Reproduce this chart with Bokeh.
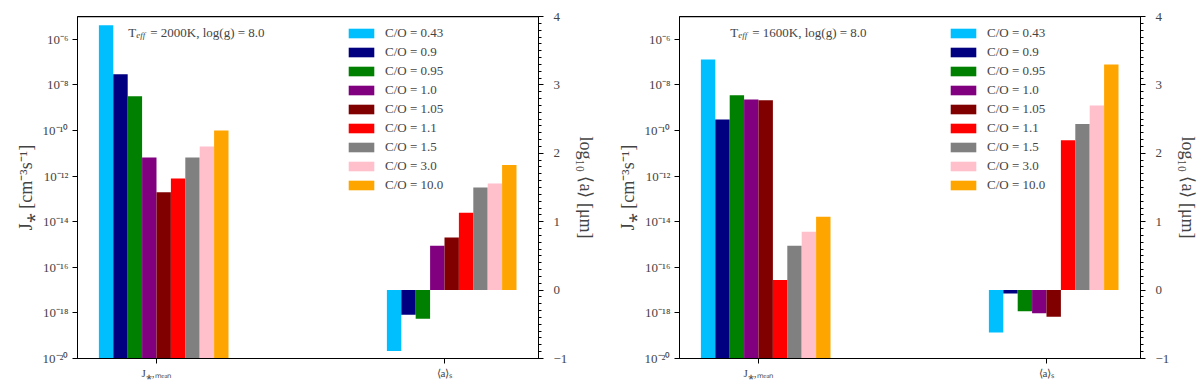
from bokeh.plotting import figure
from bokeh.layouts import row
from bokeh.models import (Range1d, LinearAxis, LinearScale, FixedTicker, SingleIntervalTicker,
                          CustomJSTickFormatter, Legend, LegendItem, Label, Span)
from bokeh.embed import file_html
from bokeh.resources import INLINE

# ---------------- data ----------------
series_labels = ["C/O = 0.43", "C/O = 0.9", "C/O = 0.95", "C/O = 1.0", "C/O = 1.05",
                 "C/O = 1.1", "C/O = 1.5", "C/O = 3.0", "C/O = 10.0"]
series_colors = ["#00BFFF", "#000080", "#008000", "#800080", "#800000",
                 "#FF0000", "#808080", "#FFC0CB", "#FFA500"]
group_labels = ["J⁎,ₘₑₐₙ", "⟨a⟩ₛ"]

# nucleation rate J* [cm^-3 s^-1]
J_2000 = [4.1e-6, 2.9e-8, 3.2e-9, 6.6e-12, 1.95e-13, 7.9e-13, 6.6e-12, 2.0e-11, 1.0e-10]
J_1600 = [1.3e-7, 3.0e-10, 3.5e-9, 2.3e-9, 2.1e-9, 2.75e-17, 8.9e-16, 3.6e-15, 1.66e-14]
# log10 <a> [um]
A_2000 = [-0.89, -0.36, -0.42, 0.65, 0.77, 1.13, 1.50, 1.56, 1.83]
A_1600 = [-0.62, -0.05, -0.31, -0.34, -0.39, 2.19, 2.43, 2.70, 3.30]

titles = [("T", "eff", "= 2000K, log(g) = 8.0"), ("T", "eff", "= 1600K, log(g) = 8.0")]

FONT = "Liberation Serif"
BAR_W = 0.05
J_BOTTOM = 1e-20
A_MIN, A_MAX = -1, 4

sup_code = """
const e = Math.round(Math.log10(tick));
const sup = {"-":"\u207b","0":"\u2070","1":"\u00b9","2":"\u00b2","3":"\u00b3","4":"\u2074",
             "5":"\u2075","6":"\u2076","7":"\u2077","8":"\u2078","9":"\u2079"};
return "10" + String(e).split("").map(c => sup[c]).join("");
"""


def make_panel(J, A, title, mb_left, mb_right):
    p = figure(frame_width=461, frame_height=342, output_backend="svg", toolbar_location=None,
               y_axis_type="log", x_range=Range1d(-0.2743, 1.3264),
               y_range=Range1d(J_BOTTOM, 1e-5),
               min_border_left=mb_left, min_border_right=mb_right,
               min_border_top=16, min_border_bottom=30)
    p.extra_y_ranges = {"a": Range1d(A_MIN, A_MAX)}
    p.extra_y_scales = {"a": LinearScale()}
    p.xgrid.grid_line_color = None
    p.ygrid.grid_line_color = None
    p.outline_line_color = "black"
    p.outline_line_alpha = 1.0
    p.outline_line_width = 1
    p.background_fill_color = "white"
    p.border_fill_color = "white"

    items = []
    for i in range(len(series_labels)):
        off = (i - 3.5) * BAR_W
        rj = p.vbar(x=[0 + off], width=BAR_W, top=[J[i]], bottom=J_BOTTOM,
                    fill_color=series_colors[i], line_color=None)
        p.vbar(x=[1 + off], width=BAR_W, top=[A[i]], bottom=0,
               fill_color=series_colors[i], line_color=None, y_range_name="a")
        items.append(LegendItem(label=series_labels[i], renderers=[rj]))

    legend = Legend(items=items, location=(268, 165), padding=0, margin=0,
                    glyph_width=32, glyph_height=12, label_height=16, spacing=3,
                    label_standoff=8, label_text_font=FONT, label_text_font_size="13px",
                    background_fill_alpha=0, border_line_alpha=0)
    p.add_layout(legend, "center")

    # frame top line
    p.add_layout(Span(location=A_MAX, dimension="width", y_range_name="a",
                      line_color="black", line_width=1.5))

    # x axis
    xa = p.xaxis[0]
    xa.ticker = FixedTicker(ticks=[0, 1], minor_ticks=[])
    xa.formatter = CustomJSTickFormatter(args=dict(labels=group_labels),
                                         code="return labels[Math.round(tick)];")
    xa.major_label_text_font = FONT
    xa.major_label_text_font_size = "11px"
    xa.major_tick_in = 0
    xa.major_tick_out = 5
    xa.major_label_standoff = 3
    xa.axis_line_color = "black"

    # left axis
    ya = p.left[0]
    ya.ticker = FixedTicker(ticks=[1e-20, 1e-18, 1e-16, 1e-14, 1e-12, 1e-10, 1e-8, 1e-6],
                            minor_ticks=[])
    ya.formatter = CustomJSTickFormatter(code=sup_code)
    ya.major_label_text_font = FONT
    ya.major_label_text_font_size = "13px"
    ya.major_tick_in = 0
    ya.major_tick_out = 5
    ya.minor_tick_line_color = None
    ya.major_label_standoff = 4
    ya.axis_label = "J⁎ [cm⁻³s⁻¹]"
    ya.axis_label_text_font = FONT
    ya.axis_label_text_font_style = "normal"
    ya.axis_label_text_font_size = "18px"
    ya.axis_label_standoff = 4

    # right axis
    ra = LinearAxis(y_range_name="a",
                    ticker=SingleIntervalTicker(interval=1, num_minor_ticks=10))
    ra.major_label_text_font = FONT
    ra.major_label_text_font_size = "13px"
    ra.major_tick_in = 0
    ra.major_tick_out = 5
    ra.minor_tick_in = 0
    ra.minor_tick_out = 3
    ra.major_label_standoff = 10
    ra.axis_label = "log₁₀ ⟨a⟩ [μm]"
    ra.axis_label_text_font = FONT
    ra.axis_label_text_font_style = "normal"
    ra.axis_label_text_font_size = "18px"
    ra.axis_label_standoff = 6
    p.add_layout(ra, "right")

    # in-panel title
    t0, t1, t2 = title
    p.add_layout(Label(x=-0.098, y=3.77, y_range_name="a", text=t0, text_font=FONT,
                       text_font_size="13px", text_baseline="middle"))
    p.add_layout(Label(x=-0.098, y=3.77, y_range_name="a", x_offset=8, y_offset=-3,
                       text=t1, text_font=FONT, text_font_style="italic",
                       text_font_size="9px", text_baseline="middle"))
    p.add_layout(Label(x=-0.098, y=3.77, y_range_name="a", x_offset=22, text=t2,
                       text_font=FONT, text_font_size="13px", text_baseline="middle"))
    return p


p1 = make_panel(J_2000, A_2000, titles[0], 77, 72)
p2 = make_panel(J_1600, A_1600, titles[1], 69, 58)
layout = row(p1, p2)

open("out.html", "w").write(file_html(layout, INLINE))
